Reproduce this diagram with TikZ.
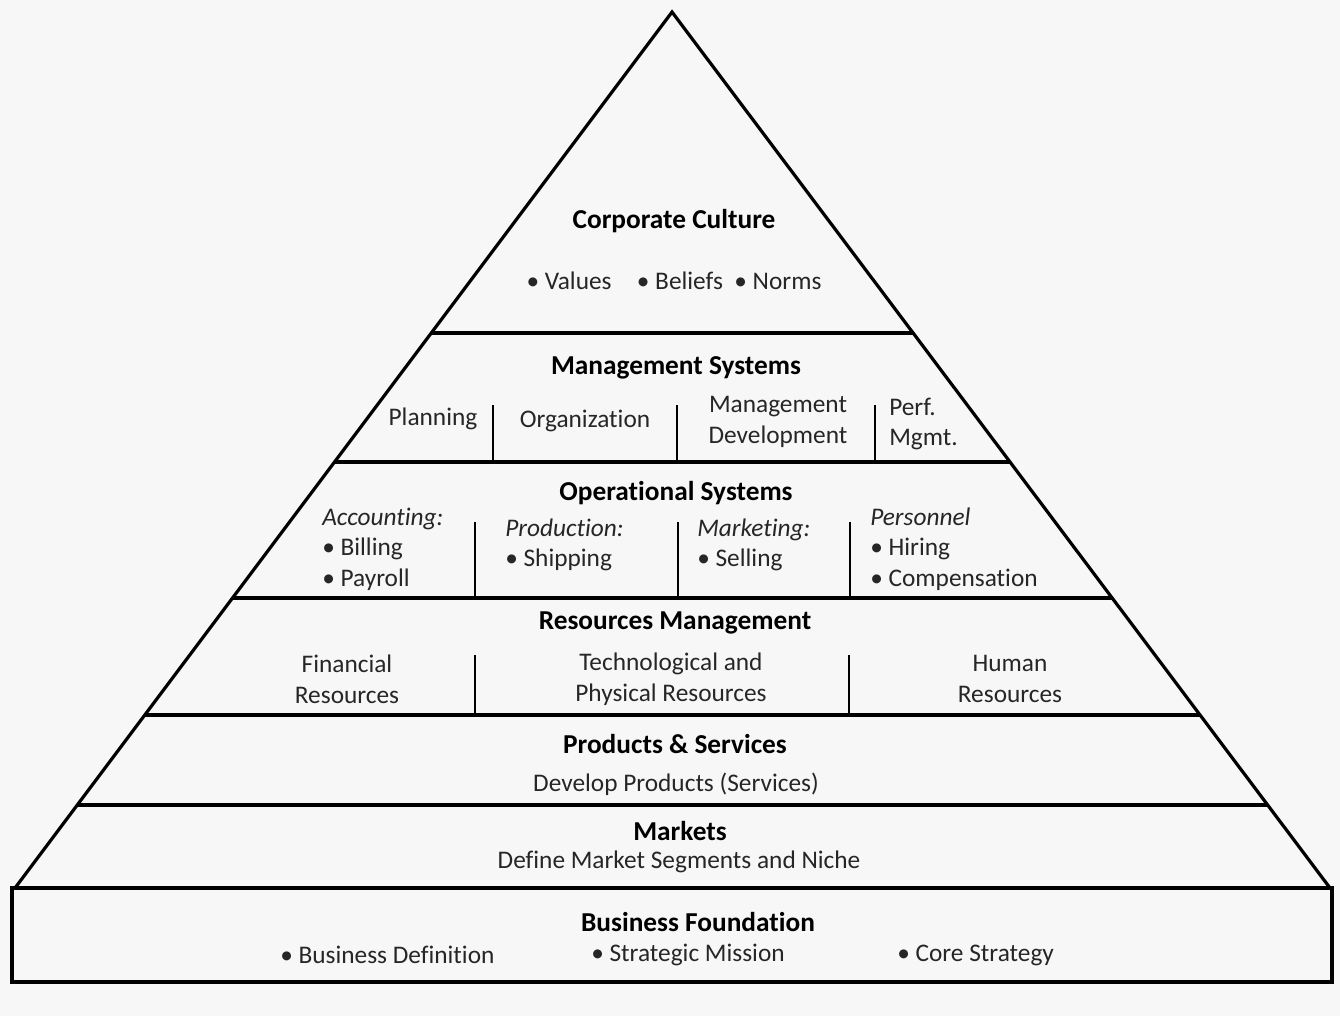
\documentclass[tikz,border=0pt]{standalone}
\usepackage{fontspec}
\setmainfont{Carlito}[Ligatures=NoCommon]
\begin{document}
\begin{tikzpicture}[x=0.75pt,y=-0.75pt,
  edge/.style={line width=2.4pt,black},
  divider/.style={line width=2.2pt,black},
  title/.style={font=\fontsize{20.5}{24}\selectfont\bfseries,inner sep=0pt},
  item/.style={font=\fontsize{19}{23}\selectfont,inner sep=0pt,text=black!85},
  itemc/.style={item,align=center},
  iteml/.style={item,align=left,anchor=west}]
\useasboundingbox (0,0) rectangle (1340,1016);
\fill[black!3] (0,0) rectangle (1340,1016);
\coordinate (apex) at (672,12);
\coordinate (bl) at (15,888);
\coordinate (br) at (1330,888);
% horizontal lines inside triangle
\begin{scope}
\clip (apex) -- (bl) -- (br) -- cycle;
\foreach \yy in {333,462,598,715,805}
  \draw[edge] (0,\yy) -- (1340,\yy);
\end{scope}
\draw[edge,line join=miter] (bl) -- (apex) -- (br);
% base
\draw[edge] (12,888) rectangle (1332,982);
% dividers
\draw[divider] (493,405) -- (493,462);
\draw[divider] (677,405) -- (677,462);
\draw[divider] (875,405) -- (875,462);
\draw[divider] (475,522) -- (475,598);
\draw[divider] (678,522) -- (678,598);
\draw[divider] (850,522) -- (850,598);
\draw[divider] (475,655) -- (475,715);
\draw[divider] (849,655) -- (849,715);
% Corporate culture
\node[title] (cc) at (674,221) {Corporate Culture};
\node[item] (ccb) at (674,281) {\textbullet\ Values\quad\textbullet\ Beliefs\ \ \textbullet\ Norms};
% Management systems
\node[title] (ms) at (676,368) {Management Systems};
\node[item] (plan) at (433,419) {Planning};
\node[item] (org) at (585,421) {Organization};
\node[itemc] (md) at (778,422) {Management\\Development};
\node[iteml] (pm) at (889,424) {Perf.\\Mgmt.};
% Operational systems
\node[title] (os) at (676,493) {Operational Systems};
\node[iteml] (acc) at (322,549) {\textit{Accounting:}\\\textbullet\ Billing\\\textbullet\ Payroll};
\node[iteml] (prod) at (505,545) {\textit{Production:}\\\textbullet\ Shipping};
\node[iteml] (mkt) at (697,545) {\textit{Marketing:}\\\textbullet\ Selling};
\node[iteml] (pers) at (870,549) {\textit{Personnel}\\\textbullet\ Hiring\\\textbullet\ Compensation};
% Resources management
\node[title] (rm) at (675,623) {Resources Management};
\node[itemc] (fin) at (347,679) {Financial\\Resources};
\node[itemc] (tech) at (671,679) {Technological and\\Physical Resources};
\node[itemc] (hum) at (1010,679) {Human\\Resources};
% Products & services
\node[title] (ps) at (675,744) {Products \& Services};
\node[item] (psb) at (676,784) {Develop Products (Services)};
% Markets
\node[title] (mk) at (680,831) {Markets};
\node[item] (mkb) at (679,862) {Define Market Segments and Niche};
% Business foundation
\node[title] (bf) at (698,922) {Business Foundation};
\node[iteml] (bf1) at (280,955) {\textbullet\ Business Definition};
\node[iteml] (bf2) at (591,955) {\textbullet\ Strategic Mission};
\node[iteml] (bf3) at (897,955) {\textbullet\ Core Strategy};
\end{tikzpicture}
\end{document}
